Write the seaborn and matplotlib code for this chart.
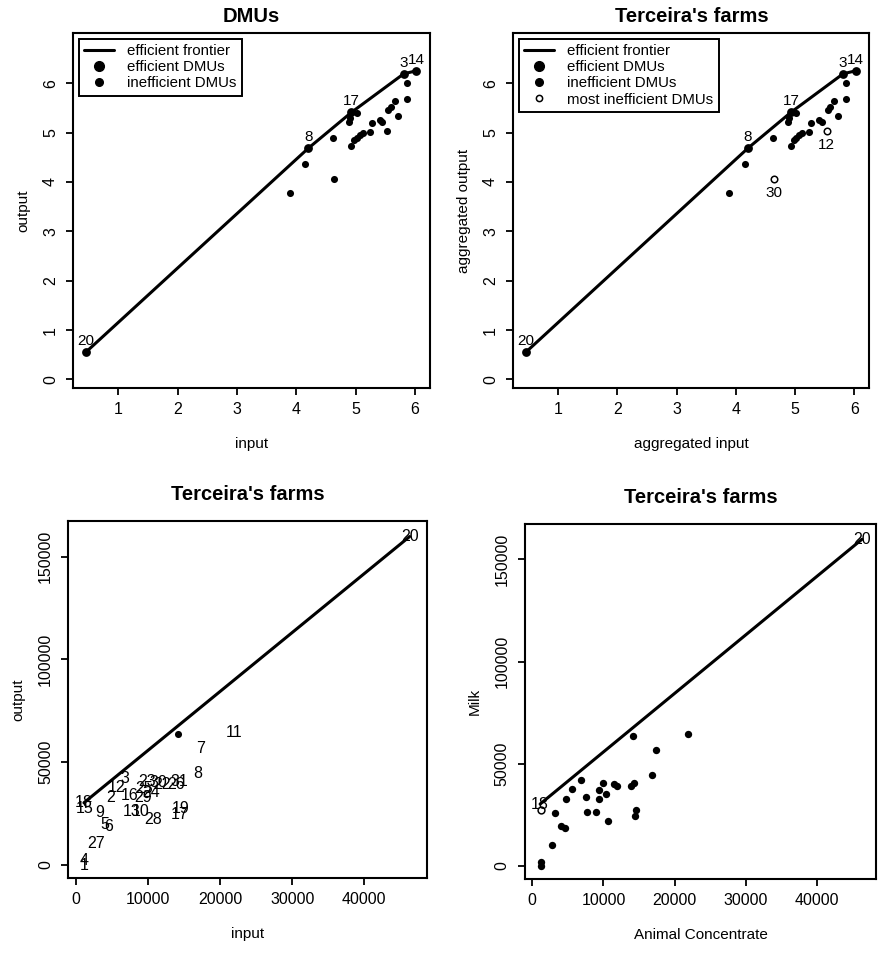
import matplotlib
matplotlib.use('Agg')
import matplotlib.pyplot as plt
import seaborn as sns
from matplotlib.lines import Line2D

# top panels: aggregated input / output (DEA)
eff_lab = ['20', '8', '17', '3', '14']
eff_x = [0.46, 4.20, 4.93, 5.81, 6.02]
eff_y = [0.56, 4.68, 5.41, 6.19, 6.25]

ineff_x = [3.89, 4.15, 4.62, 4.88, 4.90, 5.02, 4.93, 4.98, 5.02, 5.07, 5.12,
           5.24, 5.27, 5.41, 5.45, 5.55, 5.59, 5.66, 5.72, 5.86, 5.86]
ineff_y = [3.77, 4.37, 4.89, 5.22, 5.29, 5.39, 4.72, 4.84, 4.89, 4.95, 5.00,
           5.02, 5.19, 5.26, 5.22, 5.46, 5.52, 5.63, 5.34, 5.68, 6.01]

worst_lab = ['30', '12']
worst_x = [4.64, 5.53]
worst_y = [4.05, 5.03]

# bottom panels: Animal Concentrate vs Milk
front_lab = ['18', '20']
front_x = [1100, 46300]
front_y = [30300, 159800]

farm_lab = ['11', '7', '8', '3', '23', '30', '22', '26', '31', '12', '25', '24',
            '16', '2', '29', '9', '13', '10', '19', '17', '28', '5', '6', '27',
            '4', '1']
farm_x = [21910, 17350, 16880, 6790, 9910, 11440, 11910, 13860, 14330, 5580,
          9440, 10370, 7490, 4790, 9350, 3260, 7720, 8980, 14560, 14420, 10700,
          4000, 4560, 2790, 1160, 1160]
farm_y = [64390, 56720, 44500, 42050, 40750, 39940, 39280, 39120, 40750, 37490,
          37160, 35050, 33900, 32760, 32760, 25750, 26240, 26240, 27380, 24610,
          22170, 19720, 18750, 10270, 2120, 0]

dot_x = [14190]
dot_y = [63730]

open_lab = ['15']
open_x = [1170]
open_y = [27400]

sns.set_style('ticks')
plt.rcParams['font.family'] = ['Liberation Sans', 'DejaVu Sans']
plt.rcParams['legend.fancybox'] = False
plt.rcParams['axes.linewidth'] = 1.5
plt.rcParams['text.color'] = 'black'
plt.rcParams['axes.labelcolor'] = 'black'
plt.rcParams['xtick.color'] = 'black'
plt.rcParams['ytick.color'] = 'black'

fig = plt.figure(figsize=(8.79, 9.57), dpi=100)
ax_tl = fig.add_axes([0.0834, 0.5942, 0.4058, 0.3710])
ax_tr = fig.add_axes([0.5840, 0.5942, 0.4050, 0.3710])
ax_bl = fig.add_axes([0.0777, 0.0822, 0.4077, 0.3737])
ax_br = fig.add_axes([0.5973, 0.0812, 0.3993, 0.3713])


def style(ax, xl, yl, title, tpad):
    ax.set_title(title, fontsize=14.5, fontweight='bold', pad=tpad, color='black')
    ax.set_xlabel(xl, fontsize=11, labelpad=14)
    ax.set_ylabel(yl, fontsize=11, labelpad=9)
    ax.tick_params(direction='out', length=5, width=1.3, labelsize=11.5,
                   color='black', labelcolor='black')
    ax.tick_params(axis='x', pad=5)
    ax.tick_params(axis='y', pad=6)
    for lab in ax.get_yticklabels():
        lab.set_rotation(90)
        lab.set_va('center')
    for sp in ax.spines.values():
        sp.set_visible(True)
        sp.set_color('black')
        sp.set_linewidth(1.5)


# ---- top panels
for ax, title, xl, yl, mark_worst in [
        (ax_tl, 'DMUs', 'input', 'output', False),
        (ax_tr, "Terceira's farms", 'aggregated input', 'aggregated output', True)]:
    sns.lineplot(x=eff_x, y=eff_y, sort=False, estimator=None, color='black',
                 lw=2.2, ax=ax)
    sns.scatterplot(x=ineff_x, y=ineff_y, color='black', s=26, linewidth=0, ax=ax)
    if mark_worst:
        sns.scatterplot(x=worst_x, y=worst_y, facecolor='white', edgecolor='black',
                        s=22, linewidth=1.1, ax=ax)
        for t, x, y in zip(worst_lab, worst_x, worst_y):
            ax.annotate(t, (x, y), xytext=(0, -5), textcoords='offset points',
                        ha='center', va='top', fontsize=11)
    else:
        sns.scatterplot(x=worst_x, y=worst_y, color='black', s=26, linewidth=0, ax=ax)
    sns.scatterplot(x=eff_x, y=eff_y, color='black', s=40, linewidth=0, ax=ax)
    for t, x, y in zip(eff_lab, eff_x, eff_y):
        ax.annotate(t, (x, y), xytext=(0, 3), textcoords='offset points',
                    ha='center', va='bottom', fontsize=11)
    ax.set_xlim(0.242, 6.253)
    ax.set_ylim(-0.18, 7.01)
    ax.set_xticks([1, 2, 3, 4, 5, 6])
    ax.set_yticks([0, 1, 2, 3, 4, 5, 6])
    style(ax, xl, yl, title, 8)

    handles = [Line2D([], [], color='black', lw=2.2),
               Line2D([], [], color='black', lw=0, marker='o', ms=7),
               Line2D([], [], color='black', lw=0, marker='o', ms=5.5)]
    labels = ['efficient frontier', 'efficient DMUs', 'inefficient DMUs']
    if mark_worst:
        handles.append(Line2D([], [], color='black', lw=0, marker='o', ms=4.5,
                              mfc='white', mew=1.1))
        labels.append('most inefficient DMUs')
    leg = ax.legend(handles, labels, loc='upper left', fontsize=10.8,
                    frameon=True, handlelength=2.0, handletextpad=0.9,
                    labelspacing=0.15, borderpad=0.35, borderaxespad=0.35)
    leg.get_frame().set_edgecolor('black')
    leg.get_frame().set_linewidth(1.4)
    leg.get_frame().set_alpha(1)

# ---- bottom-left: labels as text
ax = ax_bl
sns.lineplot(x=front_x, y=front_y, sort=False, estimator=None, color='black',
             lw=2.2, ax=ax)
sns.scatterplot(x=dot_x, y=dot_y, color='black', s=26, linewidth=0, ax=ax)
for t, x, y in zip(farm_lab + front_lab + open_lab,
                   farm_x + front_x + open_x, farm_y + front_y + open_y):
    ax.text(x, y, t, ha='center', va='center', fontsize=11.5)
ax.set_xlim(-1068, 48660)
ax.set_ylim(-6470, 167500)
ax.set_xticks([0, 10000, 20000, 30000, 40000])
ax.set_yticks([0, 50000, 100000, 150000])
style(ax, 'input', 'output', "Terceira's farms", 15)

# ---- bottom-right: points
ax = ax_br
sns.lineplot(x=front_x, y=front_y, sort=False, estimator=None, color='black',
             lw=2.2, ax=ax)
sns.scatterplot(x=farm_x + dot_x, y=farm_y + dot_y, color='black', s=28,
                linewidth=0, ax=ax)
sns.scatterplot(x=open_x, y=open_y, facecolor='white', edgecolor='black', s=24,
                linewidth=1.1, ax=ax)
for t, x, y in zip(front_lab, front_x, front_y):
    ax.text(x, y, t, ha='center', va='center', fontsize=11.5)
ax.set_xlim(-1019, 48280)
ax.set_ylim(-6507, 167320)
ax.set_xticks([0, 10000, 20000, 30000, 40000])
ax.set_yticks([0, 50000, 100000, 150000])
style(ax, 'Animal Concentrate', 'Milk', "Terceira's farms", 15)

fig.savefig('out.png', dpi=100, facecolor='white')
